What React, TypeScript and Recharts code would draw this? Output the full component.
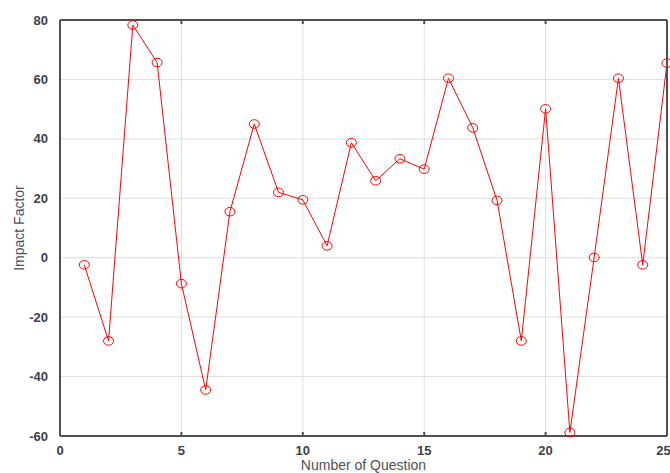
import { LineChart, Line, XAxis, YAxis, CartesianGrid } from "recharts";

const questions = [
  1, 2, 3, 4, 5, 6, 7, 8, 9, 10, 11, 12, 13, 14, 15, 16, 17, 18, 19, 20, 21,
  22, 23, 24, 25,
];
const impact = [
  -2.4, -28, 78.3, 65.7, -8.7, -44.5, 15.5, 45, 22, 19.5, 4, 38.7, 25.9, 33.3,
  29.8, 60.4, 43.7, 19.3, -28, 50.1, -58.8, 0.1, 60.4, -2.4, 65.5,
];
const xTicks = [0, 5, 10, 15, 20, 25];
const yTicks = [-60, -40, -20, 0, 20, 40, 60, 80];

const data = questions.map((q, i) => ({ question: q, impact: impact[i] }));

const FRAME = "#505050";
const RED = "#ff0000";
const FONT = "'Liberation Sans', Arial, sans-serif";

function OpenCircle(props: { cx?: number; cy?: number; index?: number }) {
  const { cx, cy, index } = props;
  if (cx == null || cy == null) return <g key={index} />;
  return (
    <ellipse
      key={index}
      cx={cx}
      cy={cy}
      rx={5}
      ry={4.3}
      fill="none"
      stroke={RED}
      strokeWidth={1}
    />
  );
}

// empty label so only the inward tick mark is drawn
const NoLabel = () => <g />;

const tickStyle = {
  fontSize: 13,
  fontWeight: 700,
  fill: "#404048",
  fontFamily: FONT,
};

export default function App() {
  return (
    <div style={{ position: "absolute", left: 0, top: 0, background: "#fff" }}>
      <LineChart
        width={670}
        height={473}
        data={data}
        margin={{ top: 20, right: 3, left: 10, bottom: 0 }}
      >
        <CartesianGrid stroke="#dedede" strokeWidth={1} xAxisId="b" yAxisId="l" />
        <XAxis
          xAxisId="b"
          dataKey="question"
          type="number"
          domain={[0, 25]}
          ticks={xTicks}
          height={37}
          tick={tickStyle}
          tickLine={false}
          tickMargin={4}
          axisLine={{ stroke: FRAME, strokeWidth: 2 }}
          label={{
            value: "Number of Question",
            position: "insideBottom",
            offset: 3,
            style: { fontSize: 14, fill: "#505058", fontFamily: FONT },
          }}
        />
        <XAxis
          xAxisId="t"
          orientation="top"
          dataKey="question"
          type="number"
          domain={[0, 25]}
          ticks={xTicks}
          mirror
          tick={NoLabel}
          tickSize={4}
          tickLine={{ stroke: FRAME, strokeWidth: 2 }}
          axisLine={{ stroke: FRAME, strokeWidth: 2 }}
        />
        <XAxis
          xAxisId="bm"
          dataKey="question"
          type="number"
          domain={[0, 25]}
          ticks={xTicks}
          mirror
          tick={NoLabel}
          tickSize={4}
          tickLine={{ stroke: FRAME, strokeWidth: 2 }}
          axisLine={false}
        />
        <YAxis
          yAxisId="l"
          type="number"
          domain={[-60, 80]}
          ticks={yTicks}
          width={50}
          tick={tickStyle}
          tickLine={false}
          tickMargin={6}
          axisLine={{ stroke: FRAME, strokeWidth: 2 }}
          label={{
            value: "Impact Factor",
            angle: -90,
            position: "insideLeft",
            offset: 9,
            style: {
              textAnchor: "middle",
              fontSize: 14,
              fill: "#505058",
              fontFamily: FONT,
            },
          }}
        />
        <YAxis
          yAxisId="lm"
          type="number"
          domain={[-60, 80]}
          ticks={yTicks}
          mirror
          tick={NoLabel}
          tickSize={4}
          tickLine={{ stroke: FRAME, strokeWidth: 2 }}
          axisLine={false}
        />
        <YAxis
          yAxisId="r"
          orientation="right"
          type="number"
          domain={[-60, 80]}
          ticks={yTicks}
          mirror
          tick={NoLabel}
          tickSize={4}
          tickLine={{ stroke: FRAME, strokeWidth: 2 }}
          axisLine={{ stroke: FRAME, strokeWidth: 2 }}
        />
        <Line
          xAxisId="b"
          yAxisId="l"
          type="linear"
          dataKey="impact"
          stroke={RED}
          strokeWidth={1}
          dot={OpenCircle}
          activeDot={false}
          isAnimationActive={false}
        />
      </LineChart>
    </div>
  );
}
